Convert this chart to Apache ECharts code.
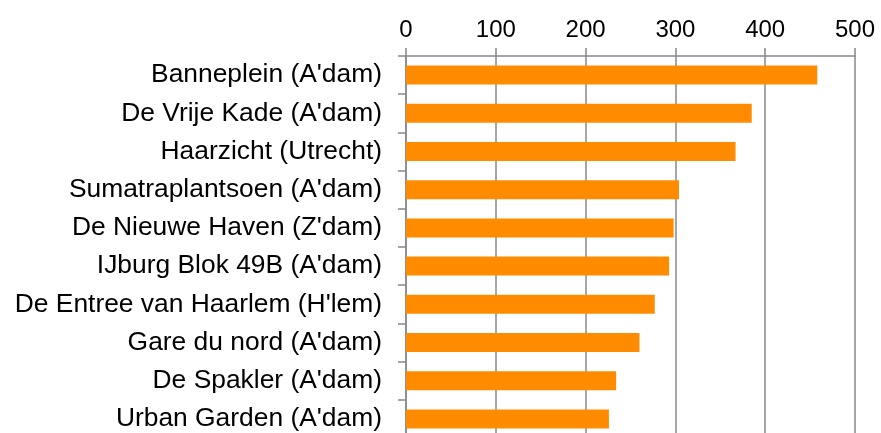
<!DOCTYPE html>
<html>
<head>
<meta charset="utf-8">
<script src="https://cdn.jsdelivr.net/npm/echarts@6/dist/echarts.min.js"></script>
<style>html,body{margin:0;padding:0;background:#fff}#c{width:881px;height:433px}</style>
</head>
<body>
<div id="c"></div>
<script>
const categories = [
  "Banneplein (A'dam)",
  "De Vrije Kade (A'dam)",
  "Haarzicht (Utrecht)",
  "Sumatraplantsoen (A'dam)",
  "De Nieuwe Haven (Z'dam)",
  "IJburg Blok 49B (A'dam)",
  "De Entree van Haarlem (H'lem)",
  "Gare du nord (A'dam)",
  "De Spakler (A'dam)",
  "Urban Garden (A'dam)"
];
const values = [458, 385, 367, 304, 298, 293, 277, 260, 234, 226];

const chart = echarts.init(document.getElementById('c'), null, {renderer: 'canvas'});
chart.setOption({
  animation: false,
  backgroundColor: '#ffffff',
  grid: {left: 406, right: 26, top: 56, height: 382, containLabel: false, outerBoundsMode: 'none'},
  xAxis: {
    type: 'value', position: 'top', min: 0, max: 500, interval: 100,
    axisLine: {show: true, lineStyle: {color: '#888', width: 1.5}},
    axisTick: {show: true, length: 8, lineStyle: {color: '#888', width: 1.5}},
    splitLine: {show: true, lineStyle: {color: '#888', width: 1.5}},
    axisLabel: {color: '#000', fontSize: 24, fontFamily: 'Liberation Sans', margin: 14}
  },
  yAxis: {
    type: 'category', inverse: true, data: categories,
    axisLine: {show: true, lineStyle: {color: '#888', width: 1.5}},
    axisTick: {show: true, length: 8, lineStyle: {color: '#888', width: 1.5}},
    axisLabel: {color: '#000', fontSize: 26.4, fontFamily: 'Liberation Sans', margin: 24}
  },
  series: [{
    type: 'bar', data: values, barWidth: 19,
    itemStyle: {color: '#FF8C00'}
  }]
});
</script>
</body>
</html>
